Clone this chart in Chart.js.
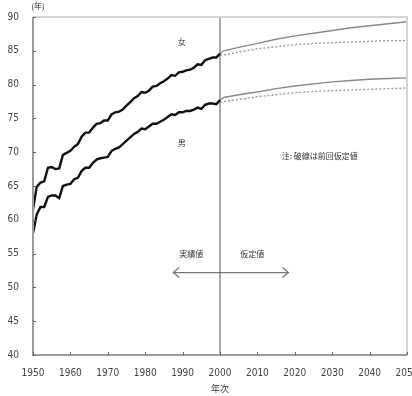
<!DOCTYPE html>
<html>
<head>
<meta charset="utf-8">
<script src="https://cdn.jsdelivr.net/npm/chart.js@4.4.0/dist/chart.umd.min.js"></script>
<style>
  html, body { margin: 0; padding: 0; background: #fff; }
  #wrap { width: 412px; height: 396px; }
</style>
</head>
<body>
<div id="wrap"><canvas id="chart" width="412" height="396"></canvas></div>
<script>
// actual values 1950-2000
const years = [1950,1951,1952,1953,1954,1955,1956,1957,1958,1959,1960,1961,1962,1963,1964,1965,1966,1967,1968,1969,1970,1971,1972,1973,1974,1975,1976,1977,1978,1979,1980,1981,1982,1983,1984,1985,1986,1987,1988,1989,1990,1991,1992,1993,1994,1995,1996,1997,1998,1999,2000];
const femaleActual = [61.5,64.9,65.5,65.7,67.7,67.8,67.5,67.6,69.6,69.9,70.2,70.8,71.2,72.3,72.9,72.9,73.6,74.2,74.3,74.7,74.7,75.6,75.9,76.0,76.3,76.9,77.4,78.0,78.3,78.9,78.8,79.1,79.7,79.8,80.2,80.5,80.9,81.4,81.3,81.8,81.9,82.1,82.2,82.5,83.0,82.9,83.6,83.8,84.0,84.0,84.6];
const maleActual = [58.0,60.8,61.9,61.9,63.4,63.6,63.6,63.2,65.0,65.2,65.3,66.0,66.2,67.2,67.7,67.7,68.4,68.9,69.1,69.2,69.3,70.2,70.5,70.7,71.2,71.7,72.2,72.7,73.0,73.5,73.4,73.8,74.2,74.2,74.5,74.8,75.2,75.6,75.5,75.9,75.9,76.1,76.1,76.3,76.6,76.4,77.0,77.2,77.2,77.1,77.7];

// projections (solid = current, dashed = previous)
const projYears = [2000,2001,2005,2010,2015,2020,2025,2030,2035,2040,2045,2050];
const femaleProj = [84.6,85.0,85.5,86.1,86.7,87.2,87.6,88.0,88.4,88.7,89.0,89.3];
const maleProj = [77.7,78.1,78.5,78.9,79.4,79.8,80.1,80.4,80.6,80.8,80.9,81.0];
const prevYears = [2000,2005,2010,2015,2020,2025,2030,2035,2040,2045,2050];
const femalePrev = [84.3,84.8,85.3,85.6,85.9,86.1,86.2,86.3,86.4,86.5,86.5];
const malePrev = [77.4,77.8,78.2,78.5,78.8,79.0,79.1,79.2,79.3,79.4,79.5];

const xTicks = [1950,1960,1970,1980,1990,2000,2010,2020,2030,2040,2050];
const yTicks = [40,45,50,55,60,65,70,75,80,85,90];

// labels placed in data coordinates
const notes = [
  { text: "女", x: 1989.8, y: 86.3 },
  { text: "男", x: 1989.8, y: 71.4 },
  { text: "注: 破線は前回仮定値", x: 2026.7, y: 69.4 },
  { text: "実績値", x: 1992.3, y: 55.0 },
  { text: "仮定値", x: 2008.6, y: 55.0 }
];
const arrowFrom = 1987.5, arrowTo = 2018.3, arrowY = 52.2;

const toPts = (xs, ys) => xs.map((x, i) => ({ x: x, y: ys[i] }));

const jpFont = '"Noto Sans CJK JP", "DejaVu Sans", sans-serif';

const extras = {
  id: "extras",
  afterDatasetsDraw(chart) {
    const ctx = chart.ctx;
    const xs = chart.scales.x, ys = chart.scales.y;
    const a = chart.chartArea;
    ctx.save();
    // light frame top/right
    ctx.strokeStyle = "#d4d4d4";
    ctx.lineWidth = 2;
    ctx.beginPath();
    ctx.moveTo(a.left, a.top);
    ctx.lineTo(a.right, a.top);
    ctx.lineTo(a.right, a.bottom);
    ctx.stroke();
    // axes
    ctx.strokeStyle = "#9a9a9a";
    ctx.beginPath();
    ctx.moveTo(a.left, a.top);
    ctx.lineTo(a.left, a.bottom);
    ctx.lineTo(a.right, a.bottom);
    ctx.stroke();
    // small inner ticks
    ctx.strokeStyle = "#666";
    ctx.lineWidth = 1;
    ctx.beginPath();
    yTicks.forEach(v => {
      const py = Math.round(ys.getPixelForValue(v)) + 0.5;
      ctx.moveTo(a.left, py); ctx.lineTo(a.left + 3, py);
    });
    xTicks.forEach(v => {
      const px = Math.round(xs.getPixelForValue(v)) + 0.5;
      ctx.moveTo(px, a.bottom); ctx.lineTo(px, a.bottom - 3);
    });
    ctx.stroke();
    // arrow heads
    const ay = ys.getPixelForValue(arrowY);
    const ax1 = xs.getPixelForValue(arrowFrom), ax2 = xs.getPixelForValue(arrowTo);
    ctx.strokeStyle = "#777";
    ctx.lineWidth = 1.2;
    ctx.beginPath();
    ctx.moveTo(ax1 + 6, ay - 5); ctx.lineTo(ax1, ay); ctx.lineTo(ax1 + 6, ay + 5);
    ctx.moveTo(ax2 - 6, ay - 5); ctx.lineTo(ax2, ay); ctx.lineTo(ax2 - 6, ay + 5);
    ctx.stroke();
    // texts
    ctx.fillStyle = "#333";
    ctx.font = "8px " + jpFont;
    ctx.textAlign = "center";
    ctx.textBaseline = "middle";
    notes.forEach(n => ctx.fillText(n.text, xs.getPixelForValue(n.x), ys.getPixelForValue(n.y)));
    ctx.font = "8px " + jpFont;
    ctx.fillText("(年)", a.left + 5, 6);
    ctx.font = "9px " + jpFont;
    ctx.fillText("年次", xs.getPixelForValue(2000), 389);
    ctx.restore();
  }
};

new Chart(document.getElementById("chart"), {
  type: "line",
  plugins: [extras],
  data: {
    datasets: [
      { data: toPts(years, femaleActual), borderColor: "#111", borderWidth: 2.4 },
      { data: toPts(years, maleActual), borderColor: "#111", borderWidth: 2.4 },
      { data: toPts(projYears, femaleProj), borderColor: "#888", borderWidth: 1.4 },
      { data: toPts(projYears, maleProj), borderColor: "#888", borderWidth: 1.4 },
      { data: toPts(prevYears, femalePrev), borderColor: "#999", borderWidth: 1.4, borderDash: [2, 2] },
      { data: toPts(prevYears, malePrev), borderColor: "#999", borderWidth: 1.4, borderDash: [2, 2] },
      { data: [{ x: 2000, y: 40 }, { x: 2000, y: 90 }], borderColor: "#555", borderWidth: 1 },
      { data: [{ x: arrowFrom, y: arrowY }, { x: arrowTo, y: arrowY }], borderColor: "#777", borderWidth: 1.2 }
    ]
  },
  options: {
    responsive: false,
    animation: false,
    events: [],
    elements: { point: { radius: 0 }, line: { tension: 0, fill: false } },
    layout: { padding: { top: 17, right: 5, left: 0, bottom: 0 } },
    plugins: { legend: { display: false }, tooltip: { enabled: false } },
    scales: {
      x: {
        type: "linear",
        min: 1950, max: 2050,
        border: { display: false },
        grid: { display: false },
        afterBuildTicks: s => { s.ticks = xTicks.map(v => ({ value: v })); },
        ticks: {
          color: "#444",
          font: { size: 10, family: "Liberation Sans Narrow, DejaVu Sans Condensed, sans-serif" },
          padding: 4, maxRotation: 0, autoSkip: false,
          callback: v => String(v)
        },
        afterFit: s => { s.height = 41; s.paddingLeft = 0; s.paddingRight = 0; }
      },
      y: {
        min: 40, max: 90,
        border: { display: false },
        grid: { display: false },
        afterBuildTicks: s => { s.ticks = yTicks.map(v => ({ value: v })); },
        ticks: { color: "#444", font: { size: 10, family: "Liberation Sans Narrow, DejaVu Sans Condensed, sans-serif" }, padding: 6 },
        afterFit: s => { s.width = 33; s.paddingTop = 0; s.paddingBottom = 0; }
      }
    }
  }
});
</script>
</body>
</html>
